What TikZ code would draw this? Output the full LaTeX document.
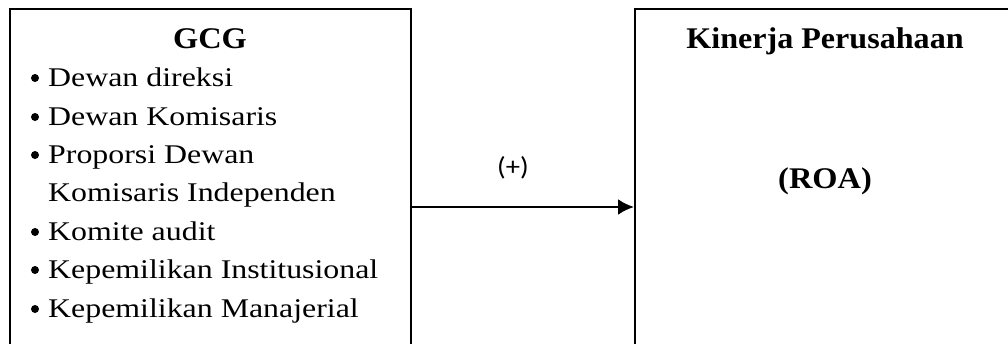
\documentclass[tikz,border=0pt]{standalone}
\usepackage{graphicx}
\usepackage{fontspec}
\setmainfont{Liberation Serif}
\newfontfamily\signfont{Carlito}
\usetikzlibrary{positioning,arrows.meta}
\newcommand{\wide}[2]{\scalebox{#1}[1]{#2}}
\begin{document}
\begin{tikzpicture}[x=1pt,y=-1pt,
    box/.style={draw,line width=1.6pt,anchor=north west,inner sep=0pt,minimum height=360pt},
    boxtitle/.style={font=\fontsize{30}{34}\selectfont\bfseries,inner sep=0pt,anchor=base},
    itemtext/.style={font=\fontsize{27}{32}\selectfont,inner sep=0pt,anchor=base west}]
    \useasboundingbox (0,0) rectangle (1008,343);
    \clip (0,0) rectangle (1008,343);

    % the two boxes
    \node[box,minimum width=401pt] (gcg) at (9,8) {};
    \node[box,minimum width=382pt] (kinerja) at (634,8) {};

    \node[boxtitle] (gcgtitle) at (210,48) {\wide{1.08}{GCG}};
    \node[boxtitle] (kinerjatitle) at (825,48) {\wide{1.07}{Kinerja Perusahaan}};
    \node[boxtitle] (roa) at (825,188) {\wide{1.08}{(ROA)}};

    % bullet list
    \foreach \txt/\yy/\b [count=\i] in {Dewan direksi/86/1,Dewan Komisaris/125/1,Proporsi Dewan/163/1,
        Komisaris Independen/201/0,Komite audit/240/1,Kepemilikan Institusional/278/1,Kepemilikan Manajerial/317/1}{
        \node[itemtext] (item\i) at (48,\yy) {\wide{1.18}{\txt}};
        \ifnum\b=1
            \fill (35,\yy-8) circle[radius=4pt];
        \fi
    }

    % arrow
    \coordinate (start) at (410,207);
    \draw[-{Latex[length=16pt,width=16pt]},line width=2.5pt] (start) -- (start -| kinerja.west);
    \node[font=\signfont\fontsize{26}{30}\selectfont,inner sep=0pt,anchor=base] (plus) at (513,175) {\wide{1.1}{(+)}};
\end{tikzpicture}
\end{document}
